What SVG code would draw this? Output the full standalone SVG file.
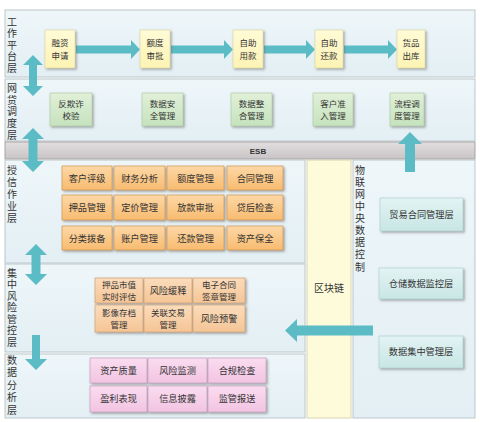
<svg xmlns="http://www.w3.org/2000/svg" width="480" height="422" viewBox="0 0 480 422">
<style>
text{font-family:"Noto Sans CJK SC","Noto Sans",sans-serif;fill:#333;}
.lbl{font-size:10px;text-anchor:middle;}
.vt{font-size:10px;writing-mode:vertical-rl;text-anchor:start;}
.bt{font-size:9.2px;text-anchor:middle;}
.b2{font-size:8.5px;text-anchor:middle;}
.panel{fill:url(#gPanel);stroke:#bcc6ca;stroke-width:1;}
.arr{fill:#5cbcc6;}
.yb{fill:url(#gY);stroke:#d8d2a0;stroke-width:0.6;filter:url(#sh);}
.gb{fill:url(#gG);stroke:#a9c7a2;stroke-width:0.6;filter:url(#sh);}
.ob{fill:url(#gO);stroke:#cf9550;stroke-width:0.7;filter:url(#sh);}
.lb{fill:url(#gL);stroke:#d0a070;stroke-width:0.7;filter:url(#sh);}
.pb{fill:url(#gP);stroke:#c6a0bc;stroke-width:0.7;filter:url(#sh);}
.tb{fill:url(#gT);stroke:#a8cccc;stroke-width:0.6;filter:url(#sh);}
</style>
<defs>
<linearGradient id="gPanel" x1="0" y1="0" x2="0" y2="1"><stop offset="0" stop-color="#eef6f9"/><stop offset="1" stop-color="#e3eff4"/></linearGradient>
<linearGradient id="gY" x1="0" y1="0" x2="0" y2="1"><stop offset="0" stop-color="#fffbd6"/><stop offset="1" stop-color="#fdf3b4"/></linearGradient>
<linearGradient id="gG" x1="0" y1="0" x2="0" y2="1"><stop offset="0" stop-color="#e0f0d8"/><stop offset="1" stop-color="#c6e2be"/></linearGradient>
<linearGradient id="gO" x1="0" y1="0" x2="0" y2="1"><stop offset="0" stop-color="#fdd8a6"/><stop offset="1" stop-color="#f8bb70"/></linearGradient>
<linearGradient id="gL" x1="0" y1="0" x2="0" y2="1"><stop offset="0" stop-color="#fbdcbc"/><stop offset="1" stop-color="#f4c596"/></linearGradient>
<linearGradient id="gP" x1="0" y1="0" x2="0" y2="1"><stop offset="0" stop-color="#fadcf0"/><stop offset="1" stop-color="#f2c4e2"/></linearGradient>
<linearGradient id="gT" x1="0" y1="0" x2="0" y2="1"><stop offset="0" stop-color="#e2f3f2"/><stop offset="1" stop-color="#c8e6e5"/></linearGradient>
<linearGradient id="gE" x1="0" y1="0" x2="0" y2="1"><stop offset="0" stop-color="#e2dfe0"/><stop offset="1" stop-color="#c9c4c6"/></linearGradient>
<filter id="sh" x="-10%" y="-10%" width="130%" height="140%"><feDropShadow dx="1.5" dy="1.5" stdDeviation="0.8" flood-color="#666" flood-opacity="0.55"/></filter>
</defs>

<g id="layers">
<rect class="panel" x="5" y="10" width="470" height="67"/>
<rect class="panel" x="5" y="79" width="470" height="62"/>
<rect x="5" y="142" width="470" height="17" fill="url(#gE)" stroke="#a9a4a6"/>
<text x="258" y="154" style="font-family:'Liberation Sans',sans-serif;font-size:8px;font-weight:bold;text-anchor:middle;">ESB</text>
<rect class="panel" x="5" y="160" width="300" height="103"/>
<rect class="panel" x="5" y="264" width="300" height="88"/>
<rect class="panel" x="5" y="354" width="300" height="64"/>
<rect x="307" y="160" width="44" height="258" fill="#fdfbd9" stroke="#d8d4b0"/>
<rect class="panel" x="353" y="160" width="122" height="258"/>
</g>

<g id="labels">
<text class="vt" x="12" y="17" letter-spacing="1.5">工作平台层</text>
<text class="vt" x="12" y="83" letter-spacing="1.75">网贷调度层</text>
<text class="vt" x="12" y="165" letter-spacing="2">授信作业层</text>
<text class="vt" x="12" y="268" letter-spacing="1.5">集中风险管控层</text>
<text class="vt" x="12" y="355" letter-spacing="2.5">数据分析层</text>
<text class="vt" x="360" y="165" letter-spacing="2.1">物联网中央数据控制</text>
<text class="lbl" x="329" y="292">区块链</text>
</g>

<g id="connectors">
<polygon class="arr" points="76,45.5 131,45.5 131,40 140,49.5 131,59 131,53.5 76,53.5"/>
<polygon class="arr" points="171,45.5 224,45.5 224,40 233,49.5 224,59 224,53.5 171,53.5"/>
<polygon class="arr" points="264,45.5 306,45.5 306,40 315,49.5 306,59 306,53.5 264,53.5"/>
<polygon class="arr" points="344,45.5 388,45.5 388,40 397,49.5 388,59 388,53.5 344,53.5"/>
<polygon class="arr" points="33,55 43,65 37,65 37,86 43,86 33,96 23,86 29,86 29,65 23,65"/>
<polygon class="arr" points="33,128 44,139 37.5,139 37.5,161 44,161 33,172 22,161 28.5,161 28.5,139 22,139"/>
<polygon class="arr" points="36,244 47,255 40.5,255 40.5,274 47,274 36,285 25,274 31.5,274 31.5,255 25,255"/>
<polygon class="arr" points="32,335 40,335 40,359 47,359 36,370 25,359 32,359"/>
<polygon class="arr" points="410,132 422,144 415,144 415,172 405,172 405,144 398,144"/>
<polygon class="arr" points="285,330.5 297,319 297,325.5 373,325.5 373,335.5 297,335.5 297,342"/>
</g>

<g id="work">
<g id="n-rzsq"><rect class="yb" x="45" y="30" width="30" height="38"/><text class="b2"><tspan x="60" y="46">融资</tspan><tspan x="60" y="58.5">申请</tspan></text></g>
<g id="n-edsp"><rect class="yb" x="140" y="30" width="30" height="38"/><text class="b2"><tspan x="155" y="46">额度</tspan><tspan x="155" y="58.5">审批</tspan></text></g>
<g id="n-zzyk"><rect class="yb" x="233" y="30" width="30" height="38"/><text class="b2"><tspan x="248" y="46">自助</tspan><tspan x="248" y="58.5">用款</tspan></text></g>
<g id="n-zzhk"><rect class="yb" x="315" y="30" width="28" height="38"/><text class="b2"><tspan x="329" y="46">自助</tspan><tspan x="329" y="58.5">还款</tspan></text></g>
<g id="n-hpck"><rect class="yb" x="397" y="30" width="28" height="38"/><text class="b2"><tspan x="411" y="46">货品</tspan><tspan x="411" y="58.5">出库</tspan></text></g>
</g>

<g id="dispatch">
<g id="n-fqz"><rect class="gb" x="50" y="93" width="42" height="33"/><text class="b2"><tspan x="71" y="106.5">反欺诈</tspan><tspan x="71" y="119">校验</tspan></text></g>
<g id="n-sjaq"><rect class="gb" x="142" y="93" width="41" height="33"/><text class="b2"><tspan x="162.5" y="106.5">数据安</tspan><tspan x="162.5" y="119">全管理</tspan></text></g>
<g id="n-sjzh"><rect class="gb" x="231" y="93" width="41" height="33"/><text class="b2"><tspan x="251.5" y="106.5">数据整</tspan><tspan x="251.5" y="119">合管理</tspan></text></g>
<g id="n-khzr"><rect class="gb" x="313" y="93" width="40" height="33"/><text class="b2"><tspan x="333" y="106.5">客户准</tspan><tspan x="333" y="119">入管理</tspan></text></g>
<g id="n-lcdd"><rect class="gb" x="390" y="93" width="34" height="33"/><text class="b2"><tspan x="407" y="106.5">流程调</tspan><tspan x="407" y="119">度管理</tspan></text></g>
</g>

<g id="credit">
<g id="n-khpj"><rect class="ob" x="62" y="166" width="50" height="24"/><text class="bt" x="87" y="181.5">客户评级</text></g>
<g id="n-cwfx"><rect class="ob" x="114" y="166" width="51" height="24"/><text class="bt" x="139.5" y="181.5">财务分析</text></g>
<g id="n-edgl"><rect class="ob" x="167" y="166" width="57" height="24"/><text class="bt" x="195.5" y="181.5">额度管理</text></g>
<g id="n-htgl"><rect class="ob" x="227" y="166" width="56" height="24"/><text class="bt" x="255" y="181.5">合同管理</text></g>
<g id="n-ypgl"><rect class="ob" x="62" y="195" width="50" height="25"/><text class="bt" x="87" y="211">押品管理</text></g>
<g id="n-djgl"><rect class="ob" x="114" y="195" width="51" height="25"/><text class="bt" x="139.5" y="211">定价管理</text></g>
<g id="n-fksp"><rect class="ob" x="167" y="195" width="57" height="25"/><text class="bt" x="195.5" y="211">放款审批</text></g>
<g id="n-dhjc"><rect class="ob" x="227" y="195" width="56" height="25"/><text class="bt" x="255" y="211">贷后检查</text></g>
<g id="n-flbb"><rect class="ob" x="62" y="226" width="50" height="24"/><text class="bt" x="87" y="241.5">分类拨备</text></g>
<g id="n-zhgl"><rect class="ob" x="114" y="226" width="51" height="24"/><text class="bt" x="139.5" y="241.5">账户管理</text></g>
<g id="n-hkgl"><rect class="ob" x="167" y="226" width="57" height="24"/><text class="bt" x="195.5" y="241.5">还款管理</text></g>
<g id="n-zcbq"><rect class="ob" x="227" y="226" width="56" height="24"/><text class="bt" x="255" y="241.5">资产保全</text></g>
</g>

<g id="risk">
<g id="n-ypsz"><rect class="lb" x="95" y="278" width="48" height="25"/><text class="b2"><tspan x="119" y="287.5">押品市值</tspan><tspan x="119" y="300">实时评估</tspan></text></g>
<g id="n-fxhs"><rect class="lb" x="144" y="278" width="48" height="25"/><text class="bt" x="168" y="294">风险缓释</text></g>
<g id="n-dzht"><rect class="lb" x="193" y="278" width="52" height="25"/><text class="b2"><tspan x="219" y="287.5">电子合同</tspan><tspan x="219" y="300">签章管理</tspan></text></g>
<g id="n-yxcd"><rect class="lb" x="95" y="305" width="48" height="27"/><text class="b2"><tspan x="119" y="315.5">影像存档</tspan><tspan x="119" y="328">管理</tspan></text></g>
<g id="n-gljy"><rect class="lb" x="144" y="305" width="48" height="27"/><text class="b2"><tspan x="168" y="315.5">关联交易</tspan><tspan x="168" y="328">管理</tspan></text></g>
<g id="n-fxyj"><rect class="lb" x="193" y="305" width="52" height="27"/><text class="bt" x="219" y="322">风险预警</text></g>
</g>

<g id="analysis">
<g id="n-zczl"><rect class="pb" x="90" y="358" width="57" height="25"/><text class="bt" x="118.5" y="374">资产质量</text></g>
<g id="n-fxjc"><rect class="pb" x="148" y="358" width="59" height="25"/><text class="bt" x="177.5" y="374">风险监测</text></g>
<g id="n-hgjc"><rect class="pb" x="208" y="358" width="58" height="25"/><text class="bt" x="237" y="374">合规检查</text></g>
<g id="n-ylbx"><rect class="pb" x="90" y="386" width="57" height="26"/><text class="bt" x="118.5" y="402">盈利表现</text></g>
<g id="n-xxpl"><rect class="pb" x="148" y="386" width="59" height="26"/><text class="bt" x="177.5" y="402">信息披露</text></g>
<g id="n-jgbs"><rect class="pb" x="208" y="386" width="58" height="26"/><text class="bt" x="237" y="402">监管报送</text></g>
</g>

<g id="iot">
<g id="n-myht"><rect class="tb" x="380" y="198" width="83" height="33"/><text class="bt" x="421.5" y="218">贸易合同管理层</text></g>
<g id="n-ccsj"><rect class="tb" x="379" y="268" width="84" height="31"/><text class="bt" x="421" y="287">仓储数据监控层</text></g>
<g id="n-sjjz"><rect class="tb" x="379" y="336" width="84" height="32"/><text class="bt" x="421" y="355">数据集中管理层</text></g>
</g>
</svg>
